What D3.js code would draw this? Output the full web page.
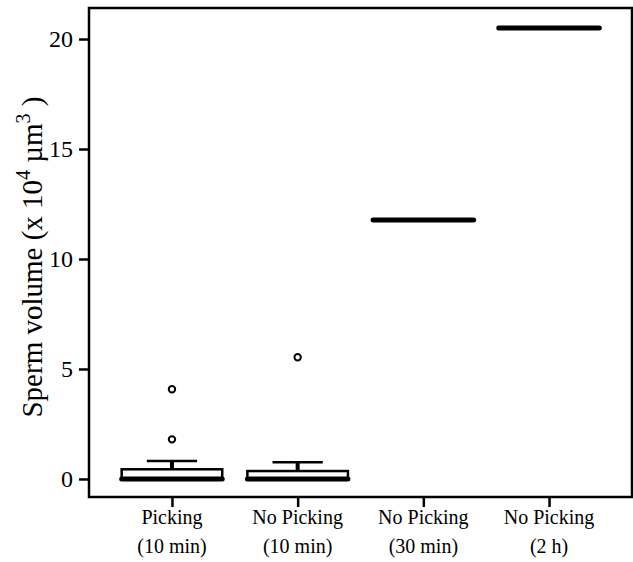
<!DOCTYPE html>
<html>
<head>
<meta charset="utf-8">
<script src="https://cdn.jsdelivr.net/npm/d3@7"></script>
<style>
  body { margin: 0; background: #fff; }
  text { font-family: "Liberation Serif", "Times New Roman", serif; fill: #000; }
</style>
</head>
<body>
<svg id="chart"></svg>
<script>
// chart data (x 10^4 um^3)
var groups = ["Picking|(10 min)", "No Picking|(10 min)", "No Picking|(30 min)", "No Picking|(2 h)"];
var q1 = [0, 0, 11.77, 20.5];
var medians = [0, 0, 11.77, 20.5];
var q3 = [0.44, 0.36, 11.77, 20.5];
var whiskerLo = [0, 0, 11.77, 20.5];
var whiskerHi = [0.82, 0.76, 11.77, 20.5];
var outliers = [[1.8, 4.08], [5.53], [], []];
var yTicks = [0, 5, 10, 15, 20];

var svgWidth = 633, svgHeight = 562;
var plotLeft = 89, plotRight = 632, plotTop = 8, plotBottom = 497;

var svg = d3.select("#chart")
    .attr("width", svgWidth)
    .attr("height", svgHeight);

var x = d3.scaleLinear()
    .domain([0.34, 4.66])
    .range([plotLeft, plotRight]);

var y = d3.scaleLinear()
    .domain([-0.82, 21.41])
    .range([plotBottom, plotTop]);

var step = x(2) - x(1);
var boxW = step * 0.8;
var capW = step * 0.4;

// boxes
var g = svg.append("g");

groups.forEach(function (d, i) {
  var cx = x(i + 1);
  // whisker
  if (whiskerHi[i] > q3[i]) {
    g.append("line")
      .attr("x1", cx).attr("x2", cx)
      .attr("y1", y(q3[i])).attr("y2", y(whiskerHi[i]))
      .attr("stroke", "#000").attr("stroke-width", 4);
    g.append("line")
      .attr("x1", cx - capW / 2).attr("x2", cx + capW / 2)
      .attr("y1", y(whiskerHi[i])).attr("y2", y(whiskerHi[i]))
      .attr("stroke", "#000").attr("stroke-width", 2.5);
  }
  if (q3[i] > q1[i]) {
    g.append("rect")
      .attr("x", cx - boxW / 2)
      .attr("y", y(q3[i]))
      .attr("width", boxW)
      .attr("height", y(q1[i]) - y(q3[i]))
      .attr("fill", "#fff")
      .attr("stroke", "#000")
      .attr("stroke-width", 2.5);
  }
  // median
  g.append("line")
    .attr("x1", cx - boxW / 2).attr("x2", cx + boxW / 2)
    .attr("y1", y(medians[i])).attr("y2", y(medians[i]))
    .attr("stroke", "#000").attr("stroke-width", 5)
    .attr("stroke-linecap", "round");
  // outliers
  g.selectAll(null)
    .data(outliers[i])
    .enter()
    .append("circle")
    .attr("cx", cx)
    .attr("cy", function (v) { return y(v); })
    .attr("r", 3.2)
    .attr("fill", "none")
    .attr("stroke", "#000")
    .attr("stroke-width", 2);
});

// frame
svg.append("rect")
  .attr("x", plotLeft).attr("y", plotTop)
  .attr("width", plotRight - plotLeft).attr("height", plotBottom - plotTop)
  .attr("fill", "none")
  .attr("stroke", "#000")
  .attr("stroke-width", 2.5);

// y axis
var yAxis = svg.append("g")
  .attr("transform", "translate(" + plotLeft + ",0)")
  .call(d3.axisLeft(y).tickValues(yTicks).tickSize(10).tickPadding(6));
yAxis.select(".domain").remove();
yAxis.selectAll("line").attr("stroke-width", 2.5);
yAxis.selectAll("text")
  .style("font-family", "Liberation Serif, serif")
  .style("font-size", "24px");

// x axis
var xAxis = svg.append("g")
  .attr("transform", "translate(0," + plotBottom + ")")
  .call(d3.axisBottom(x).tickValues([1, 2, 3, 4]).tickSize(10).tickFormat(""));
xAxis.select(".domain").remove();
xAxis.selectAll("line").attr("stroke-width", 2.5);

groups.forEach(function (d, i) {
  var lines = d.split("|");
  var t = svg.append("text")
    .attr("x", x(i + 1))
    .attr("text-anchor", "middle")
    .style("font-size", "20px");
  t.append("tspan").attr("x", x(i + 1)).attr("y", 524).text(lines[0]);
  t.append("tspan").attr("x", x(i + 1)).attr("y", 553).text(lines[1]);
});

// y title
var title = svg.append("text")
  .attr("transform", "translate(42,257) rotate(-90)")
  .attr("text-anchor", "middle")
  .style("font-size", "29px");
title.append("tspan").text("Sperm volume (x 10");
title.append("tspan").attr("dy", -12).style("font-size", "20px").text("4");
title.append("tspan").attr("dy", 12).text(" \u00b5m");
title.append("tspan").attr("dy", -12).style("font-size", "20px").text("3");
title.append("tspan").attr("dy", 12).text(" )");
</script>
</body>
</html>
